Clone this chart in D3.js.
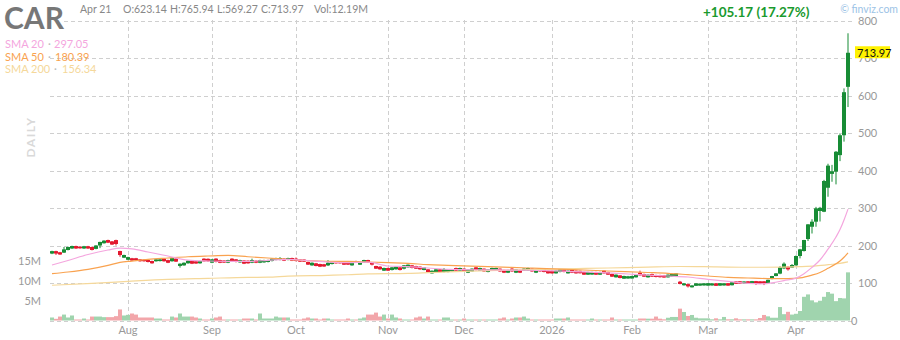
<!DOCTYPE html>
<html>
<head>
<meta charset="utf-8">
<script src="https://cdn.jsdelivr.net/npm/d3@7"></script>
<style>
body { margin: 0; background: #fff; }
svg { display: block; font-family: Lato, "Open Sans", sans-serif; }
</style>
</head>
<body>
<svg id="chart"></svg>
<script>
var width = 900;
var height = 340;

// trading calendar
var startDay = "2025-07-07";
var endDay = "2026-04-21";
var holidays = ["2025-09-01", "2025-11-27", "2025-12-25", "2026-01-01", "2026-01-19", "2026-02-16", "2026-04-03"];

var monthTickDates = ["2025-08-01", "2025-09-02", "2025-10-01", "2025-11-03", "2025-12-01", "2026-01-02", "2026-02-02", "2026-03-02", "2026-04-01"];
var monthLabels = ["Aug", "Sep", "Oct", "Nov", "Dec", "2026", "Feb", "Mar", "Apr"];
var priceTicks = [0, 100, 200, 300, 400, 500, 600, 700, 800];
var volumeTicks = [5, 10, 15];

var openPrices = [
    178.5, 185, 182, 181, 188, 192, 198.6, 196.5, 192, 198,
    196, 191, 200, 206, 214.6, 211, 214.5, 185.3, 167.5, 162,
    166, 166, 163, 162, 161.3, 158.6, 158, 158.5, 165, 161,
    158, 165, 145.5, 147, 152.5, 158.6, 158, 152.5, 164.9, 164.5,
    154.2, 165, 161, 160, 154.2, 164.9, 163, 155, 160, 159.5,
    154.2, 159.5, 154, 155, 156, 158.6, 161.3, 161.5, 164.9, 161.3,
    166.5, 164.9, 163, 162.5, 156, 147, 152.5, 150.6, 150, 147,
    150.6, 157.7, 157.5, 154.2, 154, 147, 158.6, 148.8, 154.2, 161.3,
    155, 145.3, 143.5, 132.9, 140, 134.6, 136.4, 141.7, 138.2, 141.7,
    147.1, 145.3, 143.5, 134.6, 136.4, 125.7, 129.3, 136.4, 129.3, 129.3,
    131, 140, 132.9, 138.2, 127.5, 131, 141.7, 132.9, 138.2, 129.3,
    132.9, 134.6, 138.2, 134.6, 127.5, 138.2, 127.5, 134.6, 132.9, 132.9,
    138.2, 127.5, 138.2, 136.4, 132.9, 132.5, 125.7, 129.3, 136.4, 125.7,
    134.6, 132.9, 132.5, 129.3, 122.2, 122.5, 129.3, 122.2, 132.9, 129.3,
    124, 115.1, 120.4, 111.5, 112, 112, 115.1, 127.5, 124, 115.1,
    124, 121.3, 121, 120.5, 115.1, 117, 118.6, 103.5, 94, 97,
    88.5, 92.5, 93, 93.5, 93, 93.5, 99, 93, 93.5, 99.5,
    94, 104, 104.5, 99, 104.5, 98.5, 105, 104.5, 104.5, 100,
    110.6, 118.6, 125, 139, 143.5, 141, 147, 172, 185.3, 217.3,
    250, 263.5, 292, 290, 354, 391, 397, 441, 494, 623.14
];
var highPrices = [
    186, 186, 183, 196, 197, 199.5, 199.5, 198, 199, 199,
    197, 201, 210, 214, 215.5, 212, 215.5, 186, 175.5, 170,
    167, 167, 164, 163, 162, 159.5, 164, 164, 166, 162,
    168.5, 166, 152.5, 155, 160.5, 159.5, 159, 159.5, 166, 165.5,
    164, 166, 162, 161, 162, 166, 164, 162, 161, 160.5,
    165, 160.5, 162, 162, 162, 166, 167.5, 169, 166, 167.5,
    167.5, 168, 164, 163.5, 157, 155, 153.5, 151.5, 151, 161,
    158.5, 158.5, 158.5, 155, 155, 155, 159.5, 157, 162, 162,
    156, 146, 145, 141, 141, 142.5, 144.5, 142.5, 148, 149.5,
    148, 146, 144.5, 142.5, 137, 133.5, 137, 137, 140, 137,
    137, 141, 141, 139, 137, 139, 142.5, 141, 139, 137,
    141, 141, 139, 135.5, 135.5, 141.7, 137, 135.5, 139, 141,
    139, 135.5, 139, 137, 133.5, 133.5, 133.5, 137, 137, 133.5,
    135.5, 133.5, 133, 130, 130, 130, 130, 130, 133.5, 130,
    125, 123, 121, 119.5, 119, 119.5, 123, 132.9, 125, 123,
    125, 122, 122, 121.5, 123, 124.5, 126.5, 105.5, 100, 98,
    94, 99.5, 99, 99.5, 100, 99.5, 100, 100, 99.5, 100,
    102.5, 105, 105, 104.5, 105, 105.5, 105.5, 105, 105, 109,
    119, 126.5, 145, 155, 145, 150.6, 173.5, 191, 215, 257,
    270, 303, 303, 375, 418, 415, 452, 499, 619, 765.94
];
var lowPrices = [
    177, 175, 175, 180, 187, 191, 191, 191.5, 191, 191,
    187, 190, 193, 205, 206.5, 201.5, 200, 170, 166.5, 161,
    159, 159.5, 157, 157, 155, 151.5, 157, 157.5, 157, 153,
    157, 156, 141, 146, 151.5, 150.5, 151, 151.5, 157, 157,
    153, 155, 153, 153.5, 153, 157, 155, 154, 150.5, 151.5,
    153, 153, 153, 154, 155, 157.5, 160.5, 160.5, 158.5, 160.5,
    158.5, 157.5, 156, 156, 148, 146, 144.5, 142.5, 143, 145.3,
    149.5, 151.5, 151.5, 148, 148, 146, 153.5, 148, 153.5, 153.5,
    147, 137.5, 135.5, 132, 132, 133.5, 135.5, 133.5, 136.4, 141,
    139, 137.5, 135.5, 134, 128.5, 125, 128.5, 128.5, 128.5, 128.5,
    130, 132, 132, 130, 126.5, 130, 133.5, 132, 130, 128.5,
    132, 134, 130, 126.5, 126.5, 130, 126.5, 126.5, 132, 132,
    130, 126.5, 130, 128.5, 125, 125, 125, 128.5, 128.5, 125,
    126.5, 125, 125.5, 121.5, 121.5, 122, 121.5, 121.5, 125, 121.5,
    116, 114.5, 112.5, 111, 111.5, 111.5, 114.5, 119.5, 116, 114.5,
    116, 115, 114.5, 114, 114.5, 116.5, 118, 96.5, 93, 88,
    88, 92, 92.5, 93, 92.5, 93, 92, 92.5, 93, 92.5,
    93.5, 97.5, 98, 98.5, 98, 98, 95, 97.5, 94.5, 99.5,
    110, 118, 123.5, 137, 133, 140, 146.5, 165.7, 184, 212,
    232, 250, 264, 289, 330, 370, 363, 425, 477, 569.27
];
var closePrices = [
    185, 178.5, 176, 189.7, 196, 198.6, 192, 192.5, 198, 192,
    188, 200, 209.5, 213, 207.5, 202.5, 204, 174.6, 174.6, 169,
    160, 160.5, 158, 158, 156, 152.5, 163, 163, 158, 154,
    166.5, 157, 151.5, 154, 159.5, 151.5, 152, 158.6, 157.8, 158,
    163, 156, 154, 154.5, 161, 158, 156, 161, 151.5, 152.5,
    161.3, 154.2, 161, 161.3, 161, 164.9, 166.5, 166.5, 159.5, 166.5,
    159.5, 158.6, 157, 157, 149, 154, 145.3, 143.5, 144, 154.2,
    157.7, 152.5, 152.5, 148.8, 149, 154.2, 154.2, 156, 161.3, 154.5,
    149, 138.2, 136.4, 140, 132.9, 141.7, 143.5, 134.6, 147.1, 148.8,
    140, 138.2, 136.4, 141.7, 129.3, 132.8, 136.4, 129.3, 136.4, 136.4,
    136, 132.9, 140, 131, 136.4, 138.2, 134.6, 140, 131, 136.4,
    140, 140, 131, 127.5, 134.6, 131, 136.4, 127.5, 138.2, 140,
    131, 134.6, 131, 129.3, 125.7, 125.7, 132.9, 136.4, 129.3, 132.9,
    127.5, 125.7, 126, 122.2, 129.3, 129, 122.2, 129.3, 125.7, 122.2,
    116.9, 122.2, 113.3, 118.6, 118, 118.6, 122.2, 120.4, 116.9, 122.2,
    117, 116, 115.5, 114.6, 122.2, 124, 125.7, 97.5, 99, 91,
    93.5, 99, 98.5, 99, 99.5, 99, 92.5, 99.5, 99, 93,
    102, 98, 98.5, 104, 98.5, 105, 98, 98, 98, 108.5,
    118.6, 125.7, 142, 151.5, 136.4, 148, 172, 189.7, 214.6, 256.4,
    263.5, 299, 300.5, 372, 413, 398, 450, 494, 608.8, 713.97
];
// volume in millions
var volumes = [
    0.76, 0.42, 1.0, 1.5, 0.76, 1.27, 0.25, 0.25, 0.5, 0.25,
    1.0, 1.0, 1.0, 0.85, 0.85, 0.85, 1.1, 2.8, 1.27, 1.43,
    1.77, 1.5, 0.76, 0.76, 0.76, 0.76, 0.5, 0.5, 0.25, 0.25,
    1.0, 0.76, 1.77, 1.0, 1.0, 1.0, 0.76, 0.5, 0.25, 0.25,
    0.5, 0.76, 1.0, 0.25, 0.25, 0.25, 0.25, 0.25, 0.5, 0.5,
    0.5, 0.25, 1.77, 0.5, 0.5, 0.5, 1.0, 0.76, 0.76, 0.76,
    0.25, 0.25, 0.25, 0.5, 0.76, 0.5, 0.5, 0.25, 0.5, 0.5,
    0.25, 0.25, 0.25, 0.25, 0.5, 0.25, 0.25, 0.5, 0.76, 1.5,
    1.5, 2.0, 1.0, 1.5, 0.5, 1.5, 0.76, 0.5, 0.25, 0.25,
    0.25, 0.76, 1.0, 0.5, 1.0, 0.25, 0.25, 0.25, 0.76, 0.76,
    0.25, 0.25, 0.25, 0.5, 0.25, 0.25, 0.25, 0.25, 0.25, 0.25,
    0.25, 0.25, 0.5, 0.76, 0.25, 0.5, 0.76, 0.76, 1.0, 0.5,
    0.25, 0.25, 0.25, 0.25, 0.25, 0.25, 0.5, 0.5, 0.5, 0.76,
    0.25, 0.25, 0.25, 0.25, 0.25, 0.5, 0.25, 0.25, 0.25, 0.25,
    0.76, 0.25, 0.25, 0.25, 0.25, 0.25, 0.25, 0.5, 0.5, 0.46,
    0.46, 1.0, 0.46, 0.3, 0.7, 0.9, 0.9, 3.0, 2.15, 1.15,
    1.4, 0.7, 0.55, 0.55, 0.55, 0.3, 0.55, 0.3, 0.9, 0.3,
    0.3, 0.55, 0.3, 0.3, 0.3, 0.3, 0.3, 0.63, 1.4, 1.05,
    0.7, 0.7, 3.4, 1.6, 2.2, 1.5, 1.7, 2.4, 6.0, 6.6,
    5.1, 4.6, 5.0, 6.0, 7.2, 6.8, 4.9, 5.7, 5.6, 12.19
];

// moving averages: [trading day index, value]
var sma20 = [[0, 148], [4, 160], [9, 176], [14, 188], [17, 193], [20, 191], [24, 182.6], [29, 172], [34, 161], [39, 158.6],
    [44, 157.7], [49, 157.7], [54, 160.4], [59, 163], [64, 159.5], [69, 156], [74, 154.2], [79, 155.5], [84, 145.3], [89, 143.5],
    [94, 140], [99, 136.4], [109, 135], [119, 134], [129, 131], [139, 127], [144, 124], [149, 121], [154, 118.6], [159, 116],
    [164, 109.7], [169, 104.4], [174, 99], [177, 97.8], [180, 100.5], [183, 106.5], [186, 113], [188, 124.9], [190, 141.6],
    [192, 161.3], [194, 190.4], [196, 222.6], [197, 242.4], [198, 268], [199, 297.05]];
var sma50 = [[0, 125], [4, 129.3], [9, 136.4], [14, 147], [17, 155], [20, 158.5], [24, 163], [29, 166.6], [34, 170], [39, 172],
    [44, 173.5], [49, 170], [54, 166.6], [59, 163], [64, 159.5], [69, 157.7], [74, 157.5], [79, 156], [84, 154.2], [89, 152.4],
    [94, 148.8], [99, 147], [109, 143.5], [119, 140], [129, 136.4], [139, 132], [149, 128], [154, 125.7], [159, 122.2],
    [164, 118.6], [169, 115], [174, 113.3], [179, 111.8], [184, 111.5], [187, 113.5], [190, 121], [192, 128.1], [194, 139.1],
    [196, 151.2], [197, 158.7], [198, 168.6], [199, 180.39]];
var sma200 = [[0, 94], [10, 99], [19, 104.4], [29, 109.7], [39, 112.4], [49, 115], [54, 115.5], [59, 118.3], [69, 120.4],
    [74, 122], [79, 124.5], [89, 125.7], [94, 127.5], [99, 129.5], [109, 132.9], [129, 138], [139, 140], [149, 142.5],
    [157, 144], [166, 143], [175, 142], [183, 142.5], [187, 143.5], [191, 145.5], [195, 150], [197, 152.5], [199, 156.34]];

var upColor = "#178c35";
var downColor = "#e2192f";
var upVolColor = "#a0d4ae";
var downVolColor = "#f2a6aa";
var gridColor = "#cfcfcf";
var axisColor = "#999";

// build the list of trading days
var fmt = d3.utcFormat("%Y-%m-%d");
var dates = [];
d3.utcDays(new Date(startDay), d3.utcDay.offset(new Date(endDay), 1)).forEach(function (d) {
    var wd = d.getUTCDay();
    var s = fmt(d);
    if (wd != 0 && wd != 6 && holidays.indexOf(s) < 0) dates.push(s);
});

var candles = dates.map(function (d, i) {
    return { date: d, o: openPrices[i], h: highPrices[i], l: lowPrices[i], c: closePrices[i], v: volumes[i] };
});

var svg = d3.select("#chart").attr("width", width).attr("height", height);

var x = d3.scaleBand().domain(dates).range([50, 850]);
var bw = x.bandwidth();
var y = d3.scaleLinear().domain([0, 800]).range([320.5, 20.5]);
var yVol = d3.scaleLinear().domain([0, 15]).range([320.5, 261.25]);

// grid
svg.append("g").selectAll("line")
    .data(priceTicks)
    .enter().append("line")
    .attr("x1", 50).attr("x2", 852)
    .attr("y1", d => Math.round(y(d)) + 0.5).attr("y2", d => Math.round(y(d)) + 0.5)
    .attr("stroke", gridColor).attr("stroke-dasharray", "4,3");

svg.append("g").selectAll("line")
    .data(monthTickDates)
    .enter().append("line")
    .attr("x1", d => x(d) + bw / 2 + 0.5).attr("x2", d => x(d) + bw / 2 + 0.5)
    .attr("y1", 20).attr("y2", 321)
    .attr("stroke", gridColor).attr("stroke-dasharray", "4,3");

// volume
svg.append("g").selectAll("rect")
    .data(candles)
    .enter().append("rect")
    .attr("x", d => x(d.date))
    .attr("width", bw)
    .attr("y", d => yVol(d.v))
    .attr("height", d => yVol(0) - yVol(d.v))
    .attr("fill", d => d.c >= d.o ? upVolColor : downVolColor);

// candles
var cg = svg.append("g");
cg.selectAll(".wick")
    .data(candles)
    .enter().append("rect")
    .attr("class", "wick")
    .attr("x", d => x(d.date) + bw / 2 - 0.5)
    .attr("width", 1)
    .attr("y", d => y(d.h))
    .attr("height", d => y(d.l) - y(d.h))
    .attr("fill", d => d.c >= d.o ? upColor : downColor);

cg.selectAll(".body")
    .data(candles)
    .enter().append("rect")
    .attr("class", "body")
    .attr("x", d => x(d.date))
    .attr("width", bw)
    .attr("y", d => y(Math.max(d.o, d.c)))
    .attr("height", d => Math.max(1, Math.abs(y(d.o) - y(d.c))))
    .attr("fill", d => d.c >= d.o ? upColor : downColor);

// moving averages
var smaLine = d3.line()
    .curve(d3.curveMonotoneX)
    .x(p => x(dates[p[0]]) + bw / 2)
    .y(p => y(p[1]));

[[sma200, "#f5d89a"], [sma50, "#f9a24f"], [sma20, "#f4a6de"]].forEach(function (s) {
    svg.append("path")
        .datum(s[0])
        .attr("d", smaLine)
        .attr("fill", "none")
        .attr("stroke", s[1])
        .attr("stroke-width", 1.2);
});

// axes
var priceAxis = svg.append("g")
    .attr("transform", "translate(850,0)")
    .call(d3.axisRight(y).tickValues(priceTicks).tickSize(0).tickPadding(8));
priceAxis.select(".domain").remove();
priceAxis.selectAll("text")
    .attr("fill", axisColor).style("font-size", "11px").style("font-family", "Lato")
    .attr("x", d => d == 0 ? 1 : 8);

var volAxis = svg.append("g")
    .attr("transform", "translate(41,0)")
    .call(d3.axisLeft(yVol).tickValues(volumeTicks).tickFormat(d => d + "M").tickSize(0).tickPadding(0));
volAxis.select(".domain").remove();
volAxis.selectAll("text").attr("fill", axisColor).style("font-size", "11px").style("font-family", "Lato");

var timeAxis = svg.append("g")
    .attr("transform", "translate(0,323)")
    .call(d3.axisBottom(x).tickValues(monthTickDates).tickFormat((d, i) => monthLabels[i]).tickSize(0).tickPadding(3));
timeAxis.select(".domain").remove();
timeAxis.selectAll("text").attr("fill", axisColor).style("font-size", "11px").style("font-family", "Lato");

// last price label
var last = candles[candles.length - 1];
svg.append("rect")
    .attr("x", 855).attr("y", y(last.c) - 6.5)
    .attr("width", 35).attr("height", 12)
    .attr("fill", "#fff200");
svg.append("text")
    .attr("x", 857).attr("y", y(last.c))
    .attr("dy", "0.35em")
    .style("font-size", "11px")
    .attr("fill", "#111")
    .text(last.c.toFixed(2));

// header
svg.append("rect").attr("x", 0).attr("y", 0).attr("width", 62).attr("height", 31).attr("fill", "#fff");
svg.append("text")
    .attr("x", 4).attr("y", 29)
    .style("font-size", "30px").style("font-weight", "bold")
    .attr("fill", "#777")
    .text("CAR");

var info = [[80, "Apr 21"], [123, "O:623.14"], [170, "H:765.94"], [217, "L:569.27"], [261, "C:713.97"], [314, "Vol:12.19M"]];
svg.append("g").selectAll("text")
    .data(info)
    .enter().append("text")
    .attr("x", d => d[0]).attr("y", 13)
    .style("font-size", "10.5px")
    .attr("fill", "#888")
    .text(d => d[1]);

svg.append("text")
    .attr("x", 703).attr("y", 17)
    .style("font-size", "13.5px").style("font-weight", "bold")
    .attr("fill", "#1a9a2e")
    .text("+105.17 (17.27%)");

svg.append("text")
    .attr("x", 898).attr("y", 13)
    .attr("text-anchor", "end")
    .style("font-size", "10.5px")
    .attr("fill", "#9cc3e6")
    .text("\u00a9 finviz.com");

var legend = [["SMA 20", "297.05", "#f4a6de", 48, 54, 48], ["SMA 50", "180.39", "#f9a24f", 48, 55, 61], ["SMA 200", "156.34", "#f5d89a", 54, 62, 73]];
legend.forEach(function (l) {
    svg.append("text").attr("x", 5).attr("y", l[5]).style("font-size", "11px").attr("fill", l[2]).text(l[0]);
    svg.append("text").attr("x", l[3]).attr("y", l[5]).style("font-size", "11px").attr("fill", "#bbb").text("\u00b7");
    svg.append("text").attr("x", l[4]).attr("y", l[5]).style("font-size", "11px").attr("fill", l[2]).text(l[1]);
});

svg.append("text")
    .attr("transform", "translate(35,137) rotate(-90)")
    .attr("text-anchor", "middle")
    .style("font-size", "12px").style("font-weight", "bold")
    .style("letter-spacing", "1.5px")
    .attr("fill", "#d9d9d9")
    .text("DAILY");
</script>
</body>
</html>
